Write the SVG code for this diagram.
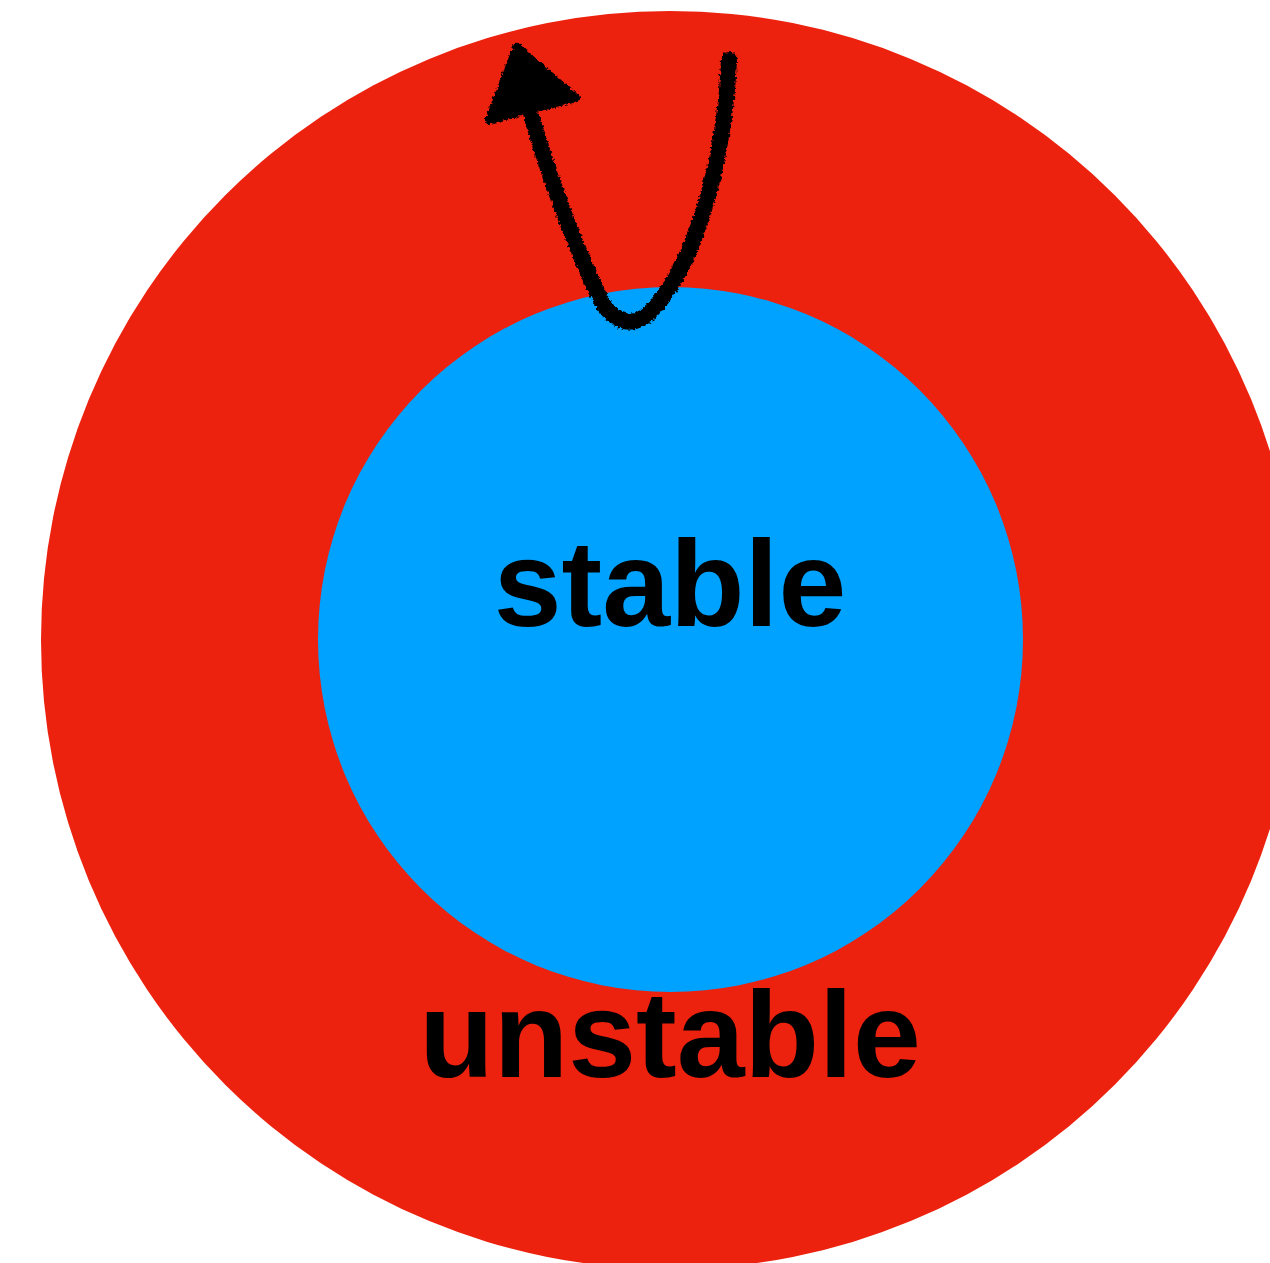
<svg xmlns="http://www.w3.org/2000/svg" width="1270" height="1263" viewBox="0 0 1270 1263">
  <defs>
    <style>
      .lbl { font-family: "Liberation Sans", Arial, sans-serif; font-weight: bold; font-size: 122px; fill: #000; text-anchor: middle; }
      .ink { fill: none; stroke: #000; stroke-width: 16; stroke-linecap: round; stroke-linejoin: round; }
    </style>
    <filter id="rough" x="-20%" y="-20%" width="140%" height="140%">
      <feTurbulence type="fractalNoise" baseFrequency="0.35" numOctaves="2" seed="3" result="n"/>
      <feDisplacementMap in="SourceGraphic" in2="n" scale="5" xChannelSelector="R" yChannelSelector="G"/>
    </filter>
  </defs>
  <rect width="1270" height="1263" fill="#ffffff"/>
  <g id="unstable">
    <circle cx="670" cy="640" r="629" fill="#ec210e"/>
    <text class="lbl" x="670" y="1077">unstable</text>
  </g>
  <g id="stable">
    <circle cx="670.5" cy="639.5" r="352.5" fill="#00a2ff"/>
    <text class="lbl" x="670" y="626">stable</text>
  </g>
  <g id="connectors" filter="url(#rough)">
    <path class="ink" d="M 729 60 C 724 170, 692 268, 652 310 C 634 330, 614 322, 602 302 C 578 255, 552 185, 532 118"/>
    <polygon points="517,47 489,120 576,98" fill="#000" stroke="#000" stroke-width="8" stroke-linejoin="round"/>
  </g>
</svg>
